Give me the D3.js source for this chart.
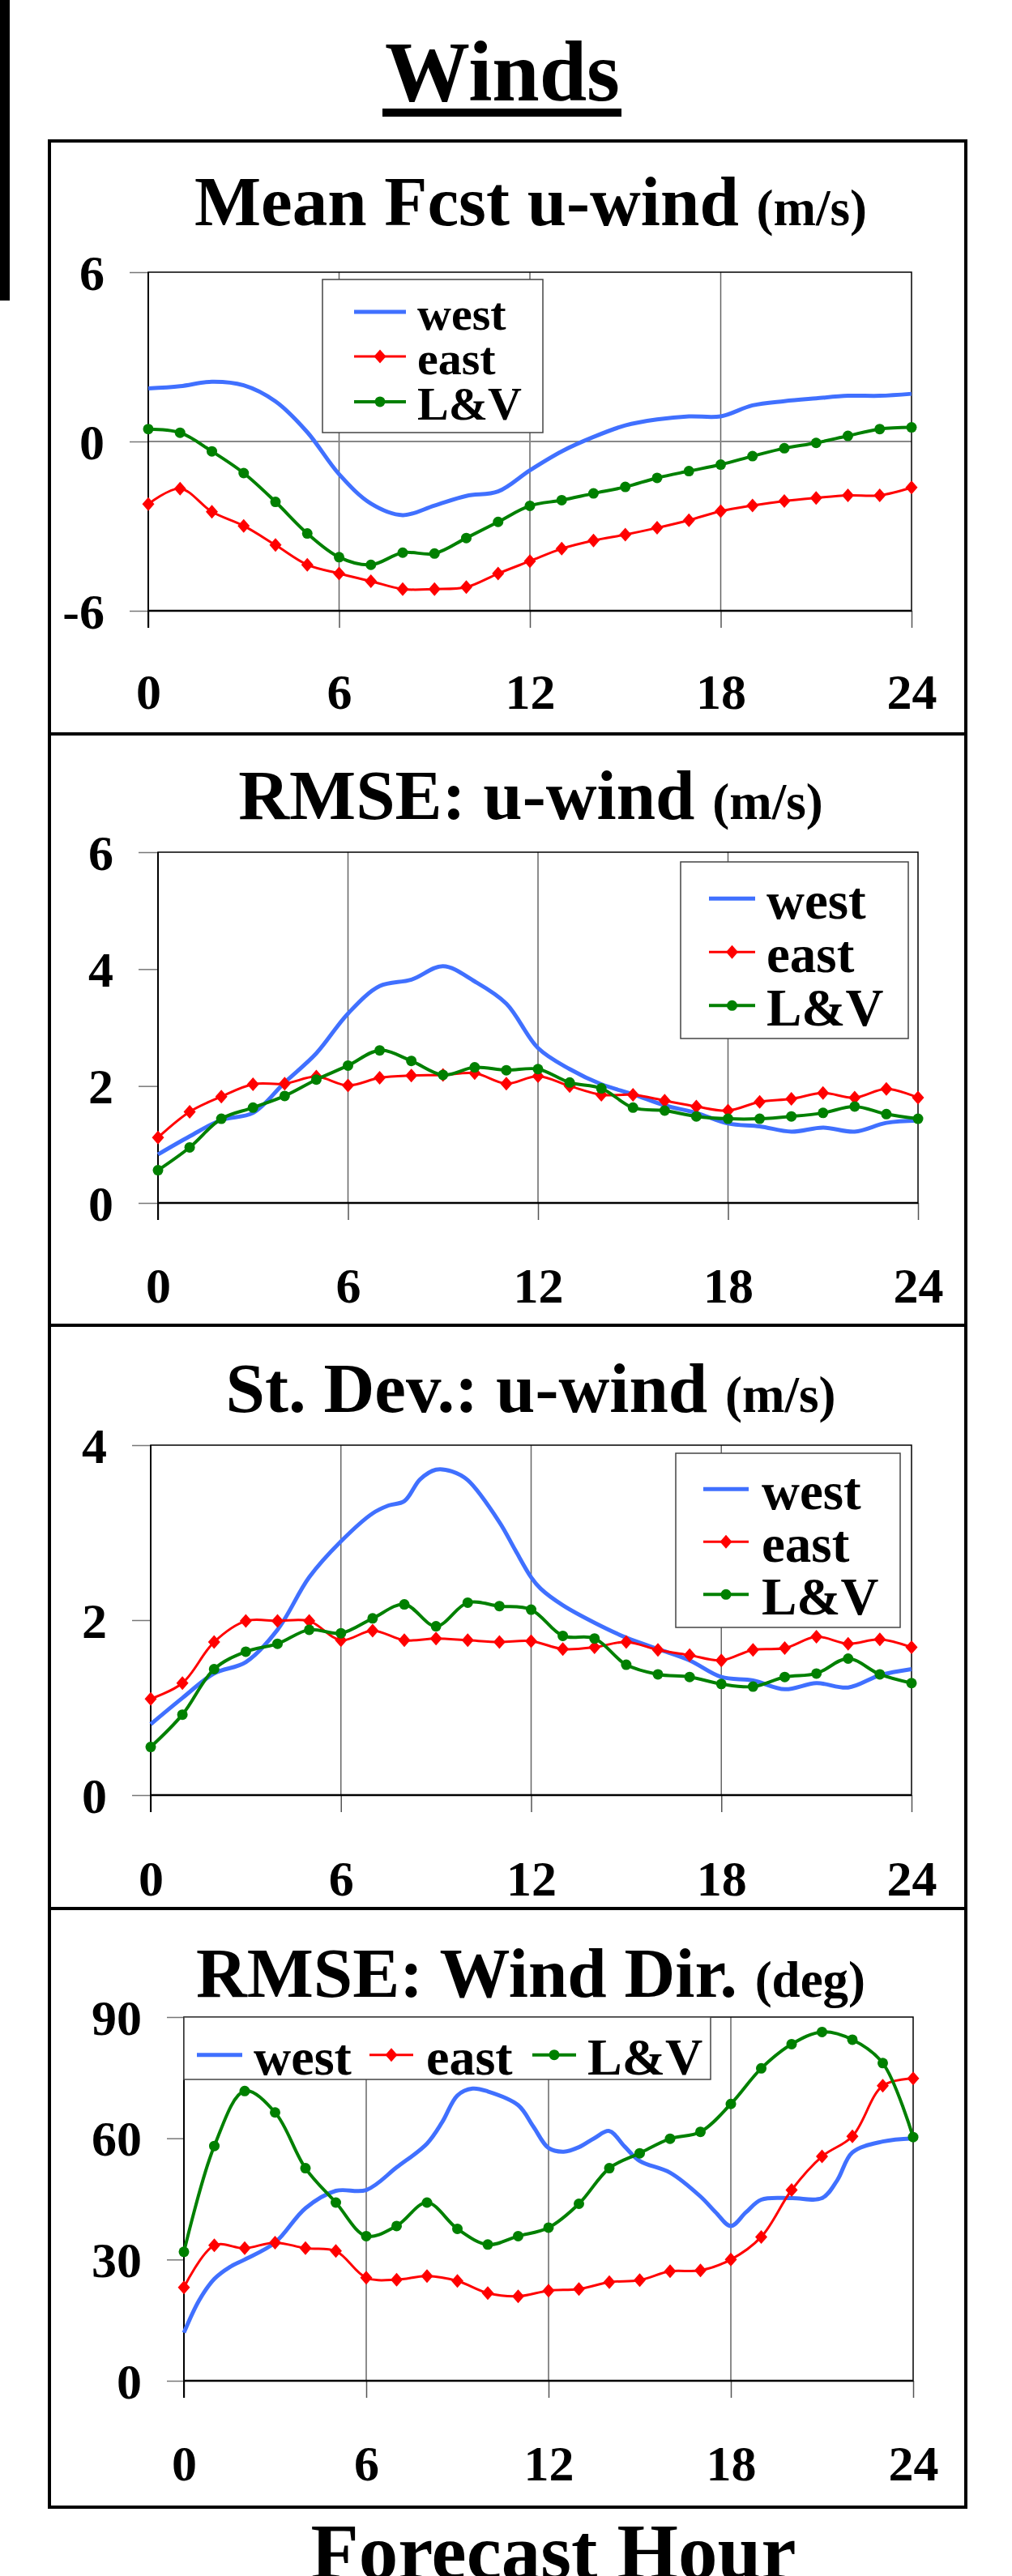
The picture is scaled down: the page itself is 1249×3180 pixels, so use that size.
<!DOCTYPE html>
<html>
<head>
<meta charset="utf-8">
<script src="https://cdn.jsdelivr.net/npm/d3@7"></script>
<style>
  body { margin: 0; background: #fff; }
  svg { display: block; }
  text { font-family: "Liberation Serif", "Times New Roman", serif; font-weight: bold; fill: #000; }
</style>
</head>
<body>
<svg id="chart" width="1249" height="3180"></svg>
<script>
const svg = d3.select('#chart');

// forecast hour, one point per hour
const hours = [0,1,2,3,4,5,6,7,8,9,10,11,12,13,14,15,16,17,18,19,20,21,22,23,24];
const xTicks = [0, 6, 12, 18, 24];

// Mean Fcst u-wind (m/s)
const meanWest = [1.88,1.96,2.12,1.99,1.42,0.33,-1.16,-2.2,-2.61,-2.27,-1.93,-1.77,-1.02,-0.35,0.16,0.57,0.78,0.89,0.89,1.28,1.43,1.53,1.62,1.62,1.69];
const meanEast = [-2.22,-1.67,-2.49,-2.99,-3.67,-4.37,-4.68,-4.95,-5.23,-5.23,-5.16,-4.68,-4.24,-3.80,-3.51,-3.30,-3.06,-2.79,-2.47,-2.27,-2.11,-2.00,-1.91,-1.91,-1.63];
const meanLV   = [0.44,0.31,-0.35,-1.12,-2.14,-3.26,-4.10,-4.37,-3.94,-3.97,-3.42,-2.85,-2.28,-2.08,-1.84,-1.61,-1.29,-1.05,-0.82,-0.52,-0.24,-0.05,0.20,0.44,0.50];

// RMSE: u-wind (m/s)
const rmseWest = [0.83,1.14,1.42,1.54,2.06,2.56,3.24,3.71,3.82,4.05,3.79,3.41,2.65,2.29,2.03,1.86,1.67,1.54,1.36,1.31,1.22,1.29,1.22,1.37,1.41];
const rmseEast = [1.12,1.56,1.82,2.03,2.04,2.16,2.01,2.14,2.18,2.19,2.22,2.04,2.17,2.00,1.85,1.85,1.75,1.65,1.58,1.73,1.78,1.88,1.80,1.95,1.80];
const rmseLV   = [0.56,0.95,1.44,1.63,1.83,2.11,2.35,2.61,2.43,2.19,2.32,2.27,2.29,2.06,1.96,1.63,1.58,1.48,1.44,1.44,1.48,1.54,1.65,1.52,1.44];

// St. Dev.: u-wind (m/s)  (west line has a few extra half-hour points)
const sdWestHours = [0,1,2,3,4,5,6,7,7.5,8,8.5,9,9.5,10,11,11.5,12,12.3,13,14,15,16,17,18,19,20,21,22,23,24];
const sdWest = [0.81,1.11,1.39,1.52,1.89,2.49,2.90,3.22,3.31,3.36,3.61,3.72,3.70,3.60,3.12,2.80,2.49,2.36,2.17,1.97,1.80,1.67,1.54,1.35,1.31,1.21,1.28,1.23,1.37,1.44];
const sdEast = [1.10,1.28,1.75,1.99,1.99,1.99,1.77,1.88,1.77,1.79,1.77,1.75,1.76,1.67,1.69,1.75,1.66,1.60,1.54,1.66,1.68,1.81,1.73,1.78,1.69];
const sdLV   = [0.55,0.92,1.44,1.64,1.73,1.89,1.85,2.02,2.18,1.93,2.20,2.16,2.12,1.82,1.79,1.49,1.38,1.35,1.27,1.24,1.35,1.39,1.56,1.38,1.28];

// RMSE: Wind Dir. (deg)
const dirWestHours = [0,0.5,1,1.5,2,3,4,5,6,7,8,8.5,9,9.5,10,11,11.5,12,12.5,13,13.5,14,14.5,15,16,17,17.5,18,18.5,19,20,21,21.5,22,23,24];
const dirWest = [11.9,19.9,25.2,28.1,30.0,34.2,42.7,47.0,47.2,52.8,58.7,64.0,70.6,72.3,71.6,68.2,62.9,57.6,56.7,57.8,60.0,61.8,58.0,54.4,51.5,45.6,41.7,38.3,41.7,44.8,45.2,45.2,49.6,56.5,59.2,60.0];
const dirEast = [23.1,33.5,32.8,34.2,32.8,32.1,25.5,25.0,25.9,24.7,21.7,20.9,22.3,22.7,24.4,24.9,27.1,27.3,30.0,35.6,47.2,55.5,60.5,73.0,74.8];
const dirLV   = [31.9,58.1,71.7,66.4,52.6,44.1,35.8,38.3,44.1,37.6,33.7,35.8,37.9,43.8,52.6,56.3,59.9,61.6,68.5,77.3,83.3,86.3,84.4,78.6,60.3];

const seriesNames = ['west', 'east', 'L&V'];
const colors = { 'west': '#4070ff', 'east': '#ff0000', 'L&V': '#008000' };
const widths = { 'west': 5, 'east': 3, 'L&V': 4 };

const panels = [
  { top: 174, bottom: 906, title: 'Mean Fcst u-wind', unit: '(m/s)', titleY: 278,
    left: 183, right: 1125, plotTop: 336, plotBottom: 754, domain: [-6, 6], yTicks: [-6, 0, 6], tickStart: 160, xLabelDy: 121,
    data: { 'west': [hours, meanWest], 'east': [hours, meanEast], 'L&V': [hours, meanLV] },
    legend: { x: 398, y: 345, w: 272, h: 189, lineX: 437, lineW: 64, textX: 515, rows: [407, 462, 518], size: 58 } },
  { top: 906, bottom: 1636, title: 'RMSE: u-wind', unit: '(m/s)', titleY: 1011,
    left: 195, right: 1133, plotTop: 1052, plotBottom: 1485, domain: [0, 6], yTicks: [0, 2, 4, 6], tickStart: 171, xLabelDy: 123,
    data: { 'west': [hours, rmseWest], 'east': [hours, rmseEast], 'L&V': [hours, rmseLV] },
    legend: { x: 840, y: 1064, w: 281, h: 218, lineX: 875, lineW: 57, textX: 946, rows: [1134, 1200, 1266], size: 65 } },
  { top: 1636, bottom: 2356, title: 'St. Dev.: u-wind', unit: '(m/s)', titleY: 1743,
    left: 186, right: 1125, plotTop: 1784, plotBottom: 2216, domain: [0, 4], yTicks: [0, 2, 4], tickStart: 163, xLabelDy: 124,
    data: { 'west': [sdWestHours, sdWest], 'east': [hours, sdEast], 'L&V': [hours, sdLV] },
    legend: { x: 834, y: 1794, w: 277, h: 215, lineX: 868, lineW: 56, textX: 940, rows: [1863, 1928, 1993], size: 65 } },
  { top: 2356, bottom: 3095, title: 'RMSE: Wind Dir.', unit: '(deg)', titleY: 2465,
    left: 227, right: 1127, plotTop: 2490, plotBottom: 2939, domain: [0, 90], yTicks: [0, 30, 60, 90], tickStart: 206, xLabelDy: 123,
    data: { 'west': [dirWestHours, dirWest], 'east': [hours, dirEast], 'L&V': [hours, dirLV] },
    legend: { x: 227, y: 2490, w: 650, h: 77, row: 2561, size: 64,
              items: [{ lineX: 243, lineW: 56, textX: 313 }, { lineX: 456, lineW: 54, textX: 526 }, { lineX: 657, lineW: 54, textX: 725 }] } }
];

// header
svg.append('rect').attr('x', 0).attr('y', 0).attr('width', 12).attr('height', 371).attr('fill', '#000');
svg.append('text').attr('x', 620).attr('y', 124).attr('text-anchor', 'middle')
  .style('font-size', '105px').text('Winds');
svg.append('rect').attr('x', 472).attr('y', 134).attr('width', 295).attr('height', 10).attr('fill', '#000');

function marker(sel, name, cx, cy) {
  if (name === 'east') {
    sel.append('path')
      .attr('d', `M${cx},${cy - 8.5}L${cx + 7.5},${cy}L${cx},${cy + 8.5}L${cx - 7.5},${cy}Z`)
      .attr('fill', colors[name]);
  } else if (name === 'L&V') {
    sel.append('circle').attr('cx', cx).attr('cy', cy).attr('r', 6.5).attr('fill', colors[name]);
  }
}

panels.forEach(p => {
  const g = svg.append('g');

  // panel frame
  g.append('rect').attr('x', 61).attr('y', p.top).attr('width', 1131).attr('height', p.bottom - p.top)
    .attr('fill', 'none').attr('stroke', '#000').attr('stroke-width', 4);

  // title
  const t = g.append('text').attr('x', 655).attr('y', p.titleY).attr('text-anchor', 'middle');
  t.append('tspan').style('font-size', '87px').text(p.title + ' ');
  t.append('tspan').style('font-size', '63px').text(p.unit);

  const x = d3.scaleLinear().domain([0, 24]).range([p.left, p.right]);
  const y = d3.scaleLinear().domain(p.domain).range([p.plotBottom, p.plotTop]);

  // vertical gridlines
  g.selectAll('.grid').data([6, 12, 18]).enter().append('line')
    .attr('x1', d => x(d)).attr('x2', d => x(d))
    .attr('y1', p.plotTop).attr('y2', p.plotBottom)
    .attr('stroke', '#666').attr('stroke-width', 1.5);

  // zero line
  if (p.domain[0] < 0) {
    g.append('line').attr('x1', p.left).attr('x2', p.right).attr('y1', y(0)).attr('y2', y(0))
      .attr('stroke', '#888').attr('stroke-width', 2);
  }

  // y axis
  g.append('g').attr('transform', `translate(${p.left},0)`)
    .call(d3.axisLeft(y).tickValues(p.yTicks).tickSize(p.left - p.tickStart).tickPadding(31).tickFormat(d => String(d)))
    .call(a => a.select('.domain').remove())
    .call(a => a.attr('font-family', null).attr('font-size', null))
    .call(a => a.selectAll('line').attr('stroke', '#777').attr('stroke-width', 1.5))
    .call(a => a.selectAll('text').style('font-size', '62px').attr('dy', '0.34em'));

  // x axis
  g.append('g').attr('transform', `translate(0,${p.plotBottom})`)
    .call(d3.axisBottom(x).tickValues(xTicks).tickSize(21).tickFormat(d => String(d)))
    .call(a => a.select('.domain').remove())
    .call(a => a.attr('font-family', null).attr('font-size', null))
    .call(a => a.selectAll('line').attr('stroke', '#555').attr('stroke-width', 1.5))
    .call(a => a.selectAll('text').style('font-size', '62px').attr('y', p.xLabelDy).attr('dy', null));

  // plot border
  g.append('rect').attr('x', p.left).attr('y', p.plotTop).attr('width', p.right - p.left).attr('height', p.plotBottom - p.plotTop)
    .attr('fill', 'none').attr('stroke', '#000').attr('stroke-width', 1.5);
  g.append('line').attr('x1', p.left).attr('x2', p.left).attr('y1', p.plotTop).attr('y2', p.plotBottom + 21)
    .attr('stroke', '#000').attr('stroke-width', 2);
  g.append('line').attr('x1', p.left).attr('x2', p.right).attr('y1', p.plotBottom).attr('y2', p.plotBottom)
    .attr('stroke', '#000').attr('stroke-width', 2.5);

  // legend box
  const L = p.legend;
  g.append('rect').attr('x', L.x).attr('y', L.y).attr('width', L.w).attr('height', L.h)
    .attr('fill', '#fff').attr('stroke', '#444').attr('stroke-width', 1.5);

  // series
  const line = d3.line().x(d => x(d[0])).y(d => y(d[1])).curve(d3.curveCatmullRom.alpha(0.5));
  ['west', 'east', 'L&V'].forEach(name => {
    const [hs, vs] = p.data[name];
    const pts = hs.map((h, i) => [h, vs[i]]);
    g.append('path').datum(pts).attr('d', line)
      .attr('fill', 'none').attr('stroke', colors[name]).attr('stroke-width', widths[name])
      .attr('stroke-linejoin', 'round');
    if (name !== 'west') {
      const mg = g.append('g');
      pts.forEach(d => marker(mg, name, x(d[0]), y(d[1])));
    }
  });

  // legend entries
  seriesNames.forEach((name, i) => {
    let lx, lw, tx, base;
    if (L.items) {
      lx = L.items[i].lineX; lw = L.items[i].lineW; tx = L.items[i].textX; base = L.row;
    } else {
      lx = L.lineX; lw = L.lineW; tx = L.textX; base = L.rows[i];
    }
    const ly = base - L.size * 0.38;
    g.append('line').attr('x1', lx).attr('x2', lx + lw).attr('y1', ly).attr('y2', ly)
      .attr('stroke', colors[name]).attr('stroke-width', widths[name]);
    marker(g, name, lx + lw / 2, ly);
    g.append('text').attr('x', tx).attr('y', base).style('font-size', L.size + 'px').text(name);
  });
});

// bottom axis title
svg.append('text').attr('x', 683).attr('y', 3183).attr('text-anchor', 'middle')
  .style('font-size', '97px').text('Forecast Hour');
</script>
</body>
</html>
